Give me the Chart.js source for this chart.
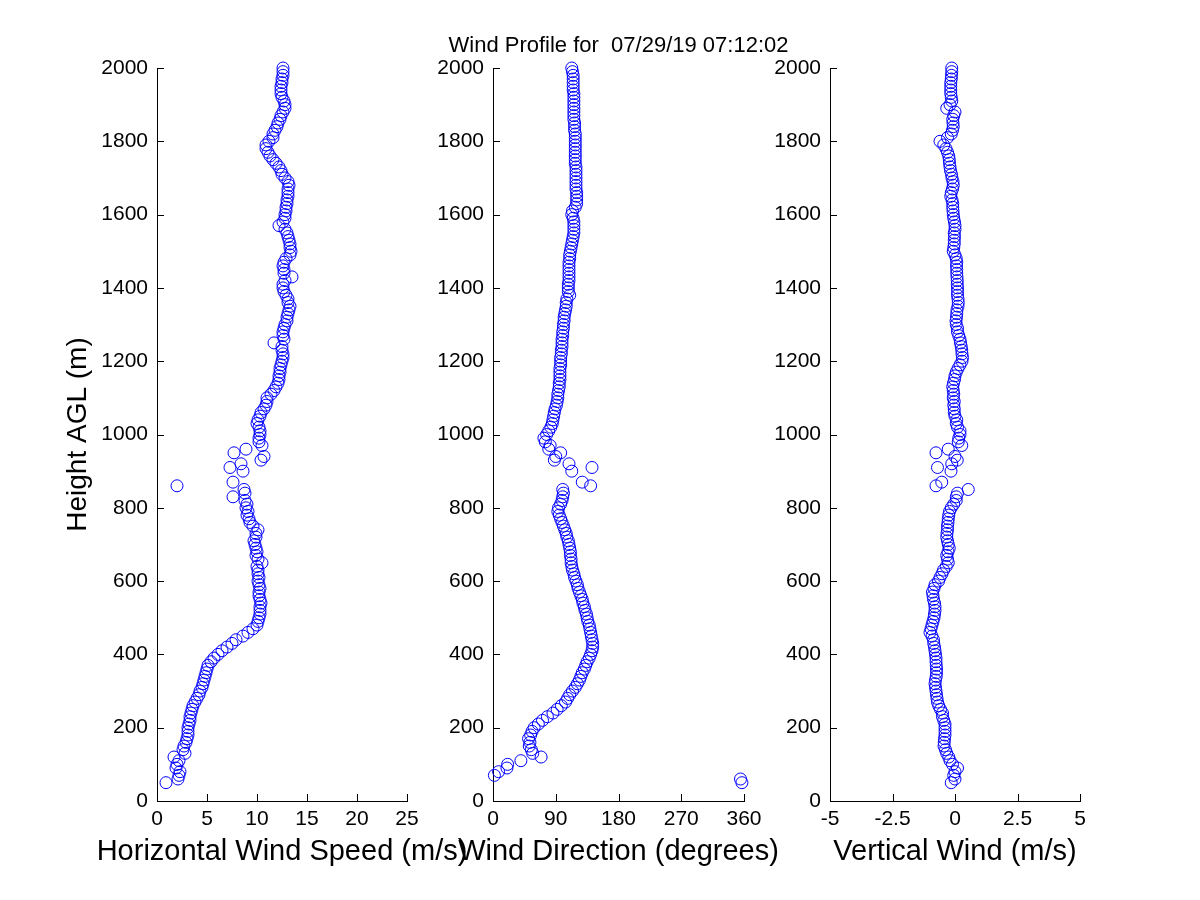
<!DOCTYPE html>
<html><head><meta charset="utf-8">
<script src="https://cdn.jsdelivr.net/npm/chart.js@4.4.1/dist/chart.umd.min.js"></script>
<style>
html,body{margin:0;padding:0;background:#fff;}
#wrap{position:relative;width:1200px;height:900px;background:#fff;}
canvas{position:absolute;left:0;top:0;}
</style></head><body>
<div id="wrap">
<canvas id="c1" width="1200" height="900"></canvas>
<canvas id="c2" width="1200" height="900"></canvas>
<canvas id="c3" width="1200" height="900"></canvas>
</div>
<script>
const chartTitle = 'Wind Profile for  07/29/19 07:12:02';
const heightLabel = 'Height AGL (m)';
const speedLabel = 'Horizontal Wind Speed (m/s)';
const directionLabel = 'Wind Direction (degrees)';
const verticalLabel = 'Vertical Wind (m/s)';

const heightTicks = [0,200,400,600,800,1000,1200,1400,1600,1800,2000];
const speedTicks = [0,5,10,15,20,25];
const directionTicks = [0,90,180,270,360];
const verticalTicks = [-5,-2.5,0,2.5,5];

const heights = [
50,60,70,80,90,100,110,120,130,140,
150,160,170,180,190,200,210,220,230,240,
250,260,270,280,290,300,310,320,330,340,
350,360,370,380,390,400,410,420,430,440,
450,460,470,480,490,500,510,520,530,540,
550,560,570,580,590,600,610,620,630,640,
650,660,670,680,690,700,710,720,730,740,
750,760,770,780,790,800,810,820,830,840,
850,860,870,880,890,900,910,920,930,940,
950,960,970,980,990,1000,1010,1020,1030,1040,
1050,1060,1070,1080,1090,1100,1110,1120,1130,1140,
1150,1160,1170,1180,1190,1200,1210,1220,1230,1240,
1250,1260,1270,1280,1290,1300,1310,1320,1330,1340,
1350,1360,1370,1380,1390,1400,1410,1420,1430,1440,
1450,1460,1470,1480,1490,1500,1510,1520,1530,1540,
1550,1560,1570,1580,1590,1600,1610,1620,1630,1640,
1650,1660,1670,1680,1690,1700,1710,1720,1730,1740,
1750,1760,1770,1780,1790,1800,1810,1820,1830,1840,
1850,1860,1870,1880,1890,1900,1910,1920,1930,1940,
1950,1960,1970,1980,1990,2000];

const speed = [
0.9,2.1,2.2,2.3,1.9,2.0,2.2,1.7,2.8,2.6,
2.7,2.9,3.0,3.1,3.1,3.1,3.2,3.3,3.3,3.4,
3.5,3.6,3.8,4.0,4.2,4.3,4.5,4.6,4.7,4.8,
4.9,5.0,5.1,5.4,5.7,6.1,6.5,7.0,7.5,7.9,
8.6,9.1,9.6,10.0,10.1,10.2,10.3,10.3,10.3,10.4,
10.3,10.2,10.2,10.3,10.2,10.1,10.2,10.1,10.1,10.0,
10.5,10.1,9.9,10.0,9.9,9.8,9.7,9.9,9.9,10.1,
9.6,9.3,9.2,9.0,9.1,8.9,9.0,8.8,7.6,8.8,
8.7,2.0,7.6,null,null,8.6,7.3,8.4,10.4,10.7,
7.7,8.9,10.5,10.2,10.2,10.3,10.3,10.2,10.0,10.1,
10.3,10.4,10.7,10.9,11.0,11.0,11.4,11.7,11.9,12.1,
12.2,12.2,12.3,12.3,12.4,12.5,12.6,12.6,12.5,12.5,
11.7,12.7,12.6,12.6,12.7,12.8,13.0,13.0,13.1,13.2,
13.3,13.1,13.1,12.9,12.7,12.6,12.6,12.8,13.5,12.7,
12.7,12.6,12.7,12.9,13.3,13.4,13.3,13.3,13.2,13.1,
13.0,12.8,12.2,12.6,12.8,12.8,12.9,12.9,13.0,13.0,
13.1,13.1,13.1,13.2,13.1,12.8,12.5,12.4,12.2,11.9,
11.6,11.3,11.1,10.9,10.9,11.2,11.6,11.6,11.8,12.0,
12.1,12.3,12.4,12.6,12.8,12.8,12.7,12.5,12.4,12.4,
12.4,12.5,12.5,12.6,12.6,12.6];

const direction = [
357,355,2,8,20,21,40,69,57,55,
52,53,51,54,56,59,65,71,78,86,
92,98,104,107,110,114,118,121,124,126,
128,131,133,135,138,140,142,143,143,142,
141,140,139,138,136,135,134,132,131,129,
128,126,124,122,121,119,117,116,114,113,
112,112,111,111,110,109,108,106,105,103,
101,99,97,95,93,94,97,99,100,101,
100,140,128,null,null,113,142,109,88,90,
97,80,82,75,73,77,80,83,85,86,
87,88,89,91,92,93,93,94,95,95,
96,96,96,96,97,97,97,98,98,99,
99,99,100,100,101,101,102,102,103,104,
105,105,106,110,108,108,108,109,109,109,
109,109,109,110,110,111,112,113,114,115,
116,116,116,116,115,113,114,118,120,120,
120,120,119,119,119,119,119,119,119,118,
118,118,118,118,118,118,118,118,117,117,
117,116,116,116,116,116,116,116,116,115,
115,115,115,115,114,113];

const vertical = [
-0.15,0.0,-0.05,0.0,0.1,-0.1,-0.2,-0.25,-0.33,-0.38,
-0.44,-0.43,-0.42,-0.40,-0.40,-0.40,-0.40,-0.45,-0.50,-0.50,
-0.58,-0.65,-0.70,-0.72,-0.74,-0.76,-0.78,-0.80,-0.78,-0.75,
-0.74,-0.74,-0.75,-0.76,-0.76,-0.78,-0.80,-0.82,-0.85,-0.86,
-0.92,-1.00,-0.96,-0.92,-0.88,-0.84,-0.82,-0.80,-0.80,-0.82,
-0.86,-0.88,-0.90,-0.84,-0.80,-0.66,-0.60,-0.52,-0.46,-0.35,
-0.27,-0.30,-0.33,-0.28,-0.23,-0.27,-0.30,-0.33,-0.32,-0.30,
-0.30,-0.28,-0.27,-0.25,-0.22,-0.15,-0.05,0.05,0.05,0.10,
0.53,-0.76,-0.53,null,null,-0.16,-0.70,-0.13,0.09,0.0,
-0.76,-0.27,0.27,0.13,0.15,0.20,0.20,0.10,0.05,0.07,
0.0,-0.03,-0.03,-0.05,-0.03,-0.07,-0.05,-0.07,-0.09,-0.06,
-0.02,0.0,0.05,0.12,0.20,0.28,0.30,0.28,0.27,0.25,
0.22,0.20,0.15,0.10,0.10,0.05,0.04,0.06,0.07,0.08,
0.12,0.13,0.12,0.10,0.10,0.10,0.09,0.09,0.08,0.07,
0.07,0.06,0.07,0.05,0.0,-0.07,-0.05,-0.03,-0.03,-0.02,
-0.03,0.0,0.0,-0.02,-0.05,-0.07,-0.08,-0.09,-0.09,-0.12,
-0.17,-0.15,-0.10,-0.07,-0.08,-0.12,-0.14,-0.18,-0.20,-0.22,
-0.23,-0.25,-0.30,-0.36,-0.45,-0.60,-0.30,-0.15,-0.10,-0.07,
-0.08,-0.09,-0.05,0.0,-0.33,-0.20,-0.13,-0.15,-0.17,-0.17,
-0.17,-0.17,-0.15,-0.14,-0.13,-0.13];

const FONT = '"Liberation Sans", Arial, Helvetica, sans-serif';

const inwardTicks = {
  id: 'inwardTicks',
  afterDraw(chart) {
    const {ctx, chartArea: a, scales: {x, y}} = chart;
    ctx.save();
    ctx.strokeStyle = '#000';
    ctx.lineWidth = 1;
    ctx.beginPath();
    x.ticks.forEach(t => {
      const px = Math.round(x.getPixelForValue(t.value)) + 0.5;
      ctx.moveTo(px, a.bottom); ctx.lineTo(px, a.bottom - 7);
    });
    y.ticks.forEach(t => {
      const py = Math.round(y.getPixelForValue(t.value)) + 0.5;
      ctx.moveTo(a.left, py); ctx.lineTo(a.left + 7, py);
    });
    ctx.stroke();
    ctx.restore();
  }
};

const panelTexts = {
  id: 'panelTexts',
  afterDraw(chart, args, opts) {
    const {ctx, chartArea: a} = chart;
    const cx = (a.left + a.right) / 2;
    ctx.save();
    ctx.fillStyle = '#000';
    ctx.textAlign = 'center';
    if (opts.title) {
      ctx.font = '22px ' + FONT;
      ctx.textBaseline = 'alphabetic';
      ctx.fillText(opts.title, cx, a.top - 16);
    }
    if (opts.xTitle) {
      ctx.font = '29px ' + FONT;
      ctx.textBaseline = 'middle';
      ctx.fillText(opts.xTitle, cx, a.bottom + 51);
    }
    ctx.restore();
  }
};

function makePanel(id, values, xTicks, xTitle, yTitle, padLeft, padRight, title) {
  const pts = [];
  heights.forEach((h, i) => { if (values[i] !== null) pts.push({x: values[i], y: h}); });
  return new Chart(document.getElementById(id), {
    type: 'scatter',
    data: { datasets: [{
      data: pts,
      pointStyle: 'circle',
      pointRadius: 6,
      pointHoverRadius: 6,
      borderColor: '#0000ff',
      backgroundColor: 'rgba(0,0,0,0)',
      borderWidth: 1,
      clip: false
    }]},
    options: {
      responsive: false,
      animation: false,
      devicePixelRatio: 1,
      events: [],
      layout: { padding: { left: padLeft, right: padRight, top: 68, bottom: 32 } },
      plugins: {
        legend: { display: false },
        tooltip: { enabled: false },
        panelTexts: { title: title, xTitle: xTitle }
      },
      scales: {
        x: {
          type: 'linear',
          min: xTicks[0], max: xTicks[xTicks.length - 1],
          afterBuildTicks: s => { s.ticks = xTicks.map(v => ({value: v})); },
          afterFit: s => { s.height = 67; },
          grid: { display: false, drawTicks: false },
          border: { display: true, color: '#000', width: 1 },
          ticks: { color: '#000', font: { family: FONT, size: 21 }, padding: 6, maxRotation: 0, autoSkip: false,
                   callback: v => String(v) },
          title: { display: false }
        },
        y: {
          type: 'linear',
          min: 0, max: 2000,
          afterBuildTicks: s => { s.ticks = heightTicks.map(v => ({value: v})); },
          afterFit: s => { s.width = 96; },
          grid: { display: false, drawTicks: false },
          border: { display: true, color: '#000', width: 1 },
          ticks: { color: '#000', font: { family: FONT, size: 21 }, padding: 9, autoSkip: false,
                   callback: v => String(v) },
          title: { display: !!yTitle, text: yTitle || '', color: '#000', font: { family: FONT, size: 28 }, padding: { top: 0, bottom: 0 } }
        }
      }
    },
    plugins: [inwardTicks, panelTexts]
  });
}

makePanel('c1', speed, speedTicks, speedLabel, heightLabel, 61, 793, null);
makePanel('c2', direction, directionTicks, directionLabel, null, 397, 456, chartTitle);
makePanel('c3', vertical, verticalTicks, verticalLabel, null, 734, 120, null);
</script>
</body></html>
